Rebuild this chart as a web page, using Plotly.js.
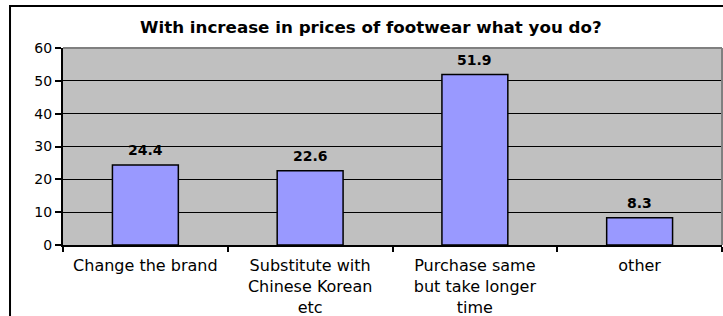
<!DOCTYPE html>
<html>
<head>
<meta charset="utf-8">
<script src="https://cdn.plot.ly/plotly-3.0.1.min.js"></script>
<style>html,body{margin:0;padding:0;background:#fff;}#chart{width:723px;height:316px;}</style>
</head>
<body>
<div id="chart"></div>
<script>
var categories = ["Change the brand", "Substitute with<br>Chinese Korean<br>etc", "Purchase same<br>but take longer<br>time", "other"];
var values = [24.4, 22.6, 51.9, 8.3];
var valueLabels = ["24.4", "22.6", "51.9", "8.3"];
var yTicks = [0, 10, 20, 30, 40, 50, 60];
var chartTitle = "With increase in prices of footwear what you do?";

var FONT = "DejaVu Sans, Verdana, sans-serif";

var trace = {
  type: "bar",
  x: categories,
  y: values,
  marker: {color: "#9999FF", line: {color: "#000", width: 1.5}},
  hoverinfo: "none"
};

var valueAnnotations = categories.map(function (c, i) {
  return {
    x: c, y: values[i], xref: "x", yref: "y",
    text: "<b>" + valueLabels[i] + "</b>",
    showarrow: false, yanchor: "bottom", yshift: 5,
    font: {family: FONT, size: 14, color: "#000"}
  };
});

var layout = {
  width: 723, height: 316,
  margin: {l: 63, r: 1, t: 48, b: 71},
  paper_bgcolor: "#ffffff",
  plot_bgcolor: "#C0C0C0",
  bargap: 0.6,
  showlegend: false,
  font: {family: FONT, color: "#000"},
  title: {
    text: "<b>" + chartTitle + "</b>",
    font: {family: FONT, size: 16.7, color: "#000"},
    xref: "container", x: 0.513, xanchor: "center",
    yref: "container", y: 0.915, yanchor: "middle"
  },
  xaxis: {
    type: "category",
    tickson: "boundaries",
    ticks: "outside", ticklen: 5, tickwidth: 2, tickcolor: "#000",
    ticklabelstandoff: 5,
    showline: true, linecolor: "#000", linewidth: 2,
    showgrid: false,
    tickfont: {family: FONT, size: 16, color: "#000"},
    fixedrange: true
  },
  yaxis: {
    range: [0, 60],
    tickvals: yTicks,
    ticktext: yTicks.map(String),
    ticks: "outside", ticklen: 6, tickwidth: 2, tickcolor: "#000",
    showline: true, linecolor: "#000", linewidth: 2,
    showgrid: true, gridcolor: "#000", gridwidth: 1,
    zeroline: false,
    tickfont: {family: FONT, size: 14, color: "#000"},
    fixedrange: true
  },
  annotations: valueAnnotations,
  shapes: [
    {type: "line", xref: "paper", yref: "paper", x0: 0, x1: 1, y0: 1, y1: 1, line: {color: "#808080", width: 2}},
    {type: "line", xref: "paper", yref: "paper", x0: 1, x1: 1, y0: 0, y1: 1, line: {color: "#808080", width: 2}},
    {type: "rect", xref: "paper", yref: "paper", x0: -0.0804, x1: 1.05, y0: -0.6, y1: 1.2132, line: {color: "#000", width: 2}, fillcolor: "rgba(0,0,0,0)"}
  ]
};

Plotly.newPlot("chart", [trace], layout, {staticPlot: true, displayModeBar: false});
</script>
</body>
</html>
